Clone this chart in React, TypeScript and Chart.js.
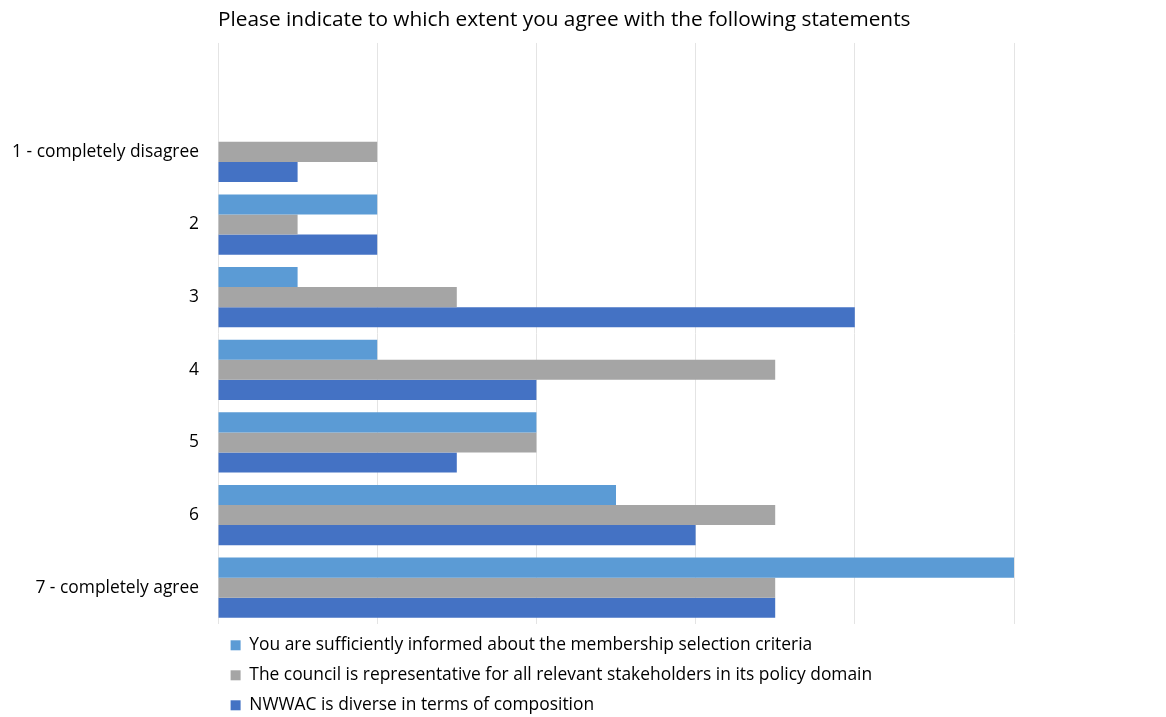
import React, { useEffect, useRef } from "react";
import { Chart, registerables } from "chart.js";

Chart.register(...registerables);

const TITLE = "Please indicate to which extent you agree with the following statements";

const categories = [
  "",
  "1 - completely disagree",
  "2",
  "3",
  "4",
  "5",
  "6",
  "7 - completely agree",
];

const seriesNames = [
  "You are sufficiently informed about the membership selection criteria",
  "The council is representative for all relevant stakeholders in its policy domain",
  "NWWAC is diverse in terms of composition",
];

const informedValues = [null, 0, 2, 1, 2, 4, 5, 10];
const representativeValues = [null, 2, 1, 3, 7, 4, 7, 7];
const diverseValues = [null, 1, 2, 8, 4, 3, 6, 7];

const seriesColors = ["#5B9BD5", "#A5A5A5", "#4472C4"];

const FONT = "'Open Sans', 'DejaVu Sans', sans-serif";

export default function App() {
  const canvasRef = useRef<HTMLCanvasElement | null>(null);

  useEffect(() => {
    document.documentElement.style.overflow = "hidden";
    document.body.style.margin = "0";
    document.body.style.overflow = "hidden";
    const canvas = canvasRef.current;
    if (!canvas) return;
    const chart = new Chart(canvas, {
      type: "bar",
      data: {
        labels: categories,
        datasets: [informedValues, representativeValues, diverseValues].map((values, i) => ({
          label: seriesNames[i],
          data: values,
          backgroundColor: seriesColors[i],
          borderWidth: 0,
          categoryPercentage: 0.83,
          barPercentage: 1,
        })),
      },
      options: {
        indexAxis: "y",
        animation: false,
        responsive: true,
        maintainAspectRatio: false,
        layout: { padding: { left: 0, right: 152, top: 0, bottom: 0 } },
        font: { family: FONT },
        plugins: {
          title: {
            display: true,
            text: TITLE,
            fullSize: false,
            align: "start",
            color: "#000",
            font: { family: FONT, size: 20.8, weight: "normal" },
            padding: { top: 8, bottom: 10 },
          },
          legend: {
            display: true,
            position: "bottom",
            fullSize: false,
            align: "start",
            labels: {
              boxWidth: 10,
              boxHeight: 10,
              padding: 12.6,
              color: "#000",
              font: { family: FONT, size: 17.4 },
            },
          },
          tooltip: { enabled: false },
        },
        scales: {
          x: {
            min: 0,
            max: 10,
            ticks: { display: false, stepSize: 2 },
            grid: { color: "#E4E4E4", drawTicks: false, lineWidth: 1 },
            border: { display: false },
          },
          y: {
            grid: { display: false },
            border: { display: false },
            ticks: {
              color: "#000",
              padding: 11,
              font: { family: FONT, size: 17.4 },
            },
            afterFit: (scale: any) => {
              scale.width = 218;
            },
          },
        },
      },
    });
    return () => chart.destroy();
  }, []);

  return (
    <div style={{ position: "relative", width: 1166, height: 724 }}>
      <canvas ref={canvasRef} />
    </div>
  );
}
